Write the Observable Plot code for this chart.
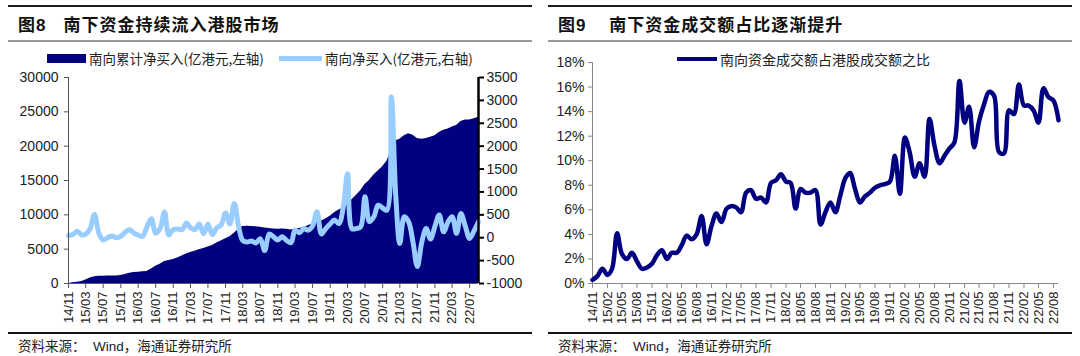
<!DOCTYPE html>
<html><head><meta charset="utf-8">
<script src="https://cdn.jsdelivr.net/npm/d3@7"></script>
<script src="https://cdn.jsdelivr.net/npm/@observablehq/plot@0.6"></script>
<style>
body{margin:0;background:#fff;}
#page{position:relative;width:1080px;height:356px;overflow:hidden;background:#fff;}
.panel{position:absolute;top:0;width:540px;height:356px;}
.rule-top{position:absolute;left:8px;width:524px;top:5px;height:2px;background:#1a1a1a;}
.title{position:absolute;left:18px;top:14px;font-family:"Liberation Sans","Noto Sans CJK SC",sans-serif;font-weight:700;font-size:17px;color:#111;letter-spacing:1px;white-space:nowrap;line-height:24px;}
.rule-grey{position:absolute;left:8px;width:524px;top:40px;height:2px;background:#9a9a9a;}
.chart{position:absolute;left:0;top:44px;}
.rule-bottom{position:absolute;left:8px;width:524px;top:332px;height:1.5px;background:#111;}
.source{position:absolute;left:18px;top:337px;font-family:"Liberation Sans","Noto Sans CJK SC",sans-serif;font-size:13.5px;color:#222;white-space:nowrap;line-height:20px;}
.legend{position:absolute;font-family:"Noto Sans CJK SC",sans-serif;font-size:13.5px;color:#222;white-space:nowrap;line-height:18px;display:flex;align-items:center;}
.sw{display:inline-block;margin-right:3px;}
</style>
</head><body>
<div id="page">
  <div class="panel" id="p1" style="left:0">
    <div class="rule-top"></div>
    <div class="title">图8&nbsp;&nbsp;&nbsp;南下资金持续流入港股市场</div>
    <div class="rule-grey"></div>
    <div class="chart" id="c1"></div>
    <div class="legend" style="left:47px;top:49px;">
      <span class="sw" style="width:39px;height:9px;background:#000080"></span><span>南向累计净买入(亿港元,左轴)</span>
      <span class="sw" style="width:43px;height:5px;background:#99CCFF;margin-left:15px"></span><span>南向净买入(亿港元,右轴)</span>
    </div>
    <div class="rule-bottom"></div>
    <div class="source">资料来源：&nbsp;&nbsp;Wind，海通证券研究所</div>
  </div>
  <div class="panel" id="p2" style="left:540px">
    <div class="rule-top"></div>
    <div class="title">图9&nbsp;&nbsp;&nbsp;&nbsp;南下资金成交额占比逐渐提升</div>
    <div class="rule-grey"></div>
    <div class="chart" id="c2"></div>
    <div class="legend" style="left:137px;top:50px;font-size:14px;">
      <span class="sw" style="width:40px;height:4px;background:#000080"></span><span>南向资金成交额占港股成交额之比</span>
    </div>
    <div class="rule-bottom"></div>
    <div class="source">资料来源：&nbsp;&nbsp;Wind，海通证券研究所</div>
  </div>
</div>
<script>
// ---- data (monthly, 2014/11 .. 2022/09) ----
const startMonth = "2014-11";
const endMonth = "2022-09";

// 南向累计净买入 (亿港元, 左轴)
const cumNetBuy = [
  0,100,200,300,500,800,1000,1050,1050,1100,
  1100,1100,1150,1300,1500,1600,1650,1700,1750,2100,
  2500,2800,3200,3350,3500,3700,4000,4300,4500,4700,
  4900,5100,5300,5550,5900,6200,6500,6800,7300,7900,
  8300,8350,8300,8250,8200,8100,8000,7950,7900,7950,
  7900,7800,7900,8000,8200,8400,8700,8900,9100,9400,
  9800,10300,10700,11000,11500,12200,12800,13500,14400,15000,
  15800,16400,17000,17800,19400,20800,21000,21500,21800,21600,
  21100,21000,21100,21300,21500,22000,22300,22500,22800,23000,
  23600,23800,23800,24000,24200
];

// 南向净买入 (亿港元, 右轴)
const monthlyNetBuy = [
  50,70,140,60,80,200,510,100,-50,0,
  40,0,30,120,175,100,60,30,230,415,
  100,200,560,60,180,190,175,320,220,175,
  300,90,300,70,220,280,540,300,745,230,
  -60,-95,-70,-115,-20,-280,80,20,-50,20,
  -60,-110,165,110,200,165,255,570,80,200,
  300,385,310,680,1400,200,200,240,895,350,
  460,710,650,600,3080,895,-125,460,350,-100,
  -630,-100,200,-30,250,495,130,350,460,95,
  530,250,-15,150,350
];

// 南向资金成交额占港股成交额之比 (%)
const turnoverShare = [
  0.3,0.6,1.2,0.7,1.2,4.1,2.4,2.0,2.5,1.8,
  1.2,1.3,1.6,2.3,2.7,2.0,2.5,2.5,3.1,3.9,
  3.6,4.0,5.5,3.2,4.7,5.7,5.0,6.1,6.3,6.2,
  5.8,7.4,7.6,6.9,7.0,6.6,8.2,8.4,8.9,8.3,
  8.2,6.1,7.7,7.4,7.4,7.6,4.8,5.8,6.6,5.8,
  7.2,8.6,9.0,7.7,6.6,7.1,7.4,7.8,8.0,8.1,
  8.3,10.4,7.3,11.9,10.7,8.7,9.8,8.7,13.4,11.2,
  9.8,10.4,11.0,11.5,16.5,13.1,14.4,11.1,13.2,14.6,
  15.6,15.3,10.7,10.6,14.1,13.8,16.2,14.5,14.5,14.1,
  13.1,15.9,15.2,14.9,13.3
];

const leftXTicks = ["14/11","15/03","15/07","15/11","16/03","16/07","16/11","17/03","17/07","17/11",
  "18/03","18/07","18/11","19/03","19/07","19/11","20/03","20/07","20/11","21/03","21/07","21/11","22/03","22/07"];
const rightXTicks = ["14/11","15/02","15/05","15/08","15/11","16/02","16/05","16/08","16/11","17/02","17/05","17/08",
  "17/11","18/02","18/05","18/08","18/11","19/02","19/05","19/08","19/11","20/02","20/05","20/08",
  "20/11","21/02","21/05","21/08","21/11","22/02","22/05","22/08"];
const leftYTicks = [0,5000,10000,15000,20000,25000,30000];
const rightYTicks = [-1000,-500,0,500,1000,1500,2000,2500,3000,3500];
const shareYTicks = [0,2,4,6,8,10,12,14,16,18];

// ---- build ----
const months = d3.utcMonth.range(new Date(startMonth), d3.utcMonth.offset(new Date(endMonth), 1));
const parseTick = d3.utcParse("%y/%m");
const fmtTick = d3.utcFormat("%y/%m");
const rows = months.map((date, i) => ({date, cum: cumNetBuy[i], net: monthlyNetBuy[i], share: turnoverShare[i]}));

const font = "'Liberation Sans', Arial, sans-serif";
const k = 30000 / 4500;
const toLeft = v => (v + 1000) * k;

const chart1 = Plot.plot({
  width: 540, height: 286,
  marginLeft: 68, marginRight: 62, marginTop: 33, marginBottom: 47,
  style: {fontFamily: font, fontSize: "14px", color: "#222", background: "transparent", overflow: "visible"},
  x: {type: "utc", domain: [months[0], months[months.length - 1]]},
  y: {domain: [0, 30000]},
  marks: [
    Plot.areaY(rows, {x: "date", y: "cum", fill: "#000080"}),
    Plot.line(rows, {x: "date", y: d => toLeft(d.net), stroke: "#99CCFF", strokeWidth: 5, curve: "catmull-rom"}),
    Plot.ruleX([months[0]], {stroke: "#555", strokeWidth: 1}),
    Plot.axisY(leftYTicks, {anchor: "left", tickSize: 4, tickPadding: 6, label: null, stroke: "#555", fill: "#222", tickFormat: d => String(d)}),
    Plot.ruleX([months[months.length - 1]], {stroke: "#000", strokeWidth: 2.5}),
    Plot.axisY(rightYTicks.map(toLeft), {anchor: "right", tickSize: 5, tickPadding: 3, label: null, stroke: "#000", strokeWidth: 2, fill: "#222",
      tickFormat: d => String(Math.round(d / k - 1000))}),
    Plot.ruleY([0], {stroke: "#555", strokeWidth: 1}),
    Plot.axisX(leftXTicks.map(parseTick), {tickRotate: -90, tickFormat: fmtTick, tickSize: 5, tickPadding: 3, label: null, stroke: "#555", fill: "#222", fontSize: 13})
  ]
});
document.getElementById("c1").append(chart1);

const chart2 = Plot.plot({
  width: 540, height: 286,
  marginLeft: 52, marginRight: 22, marginTop: 18, marginBottom: 47,
  style: {fontFamily: font, fontSize: "14px", color: "#222", background: "transparent", overflow: "visible"},
  x: {type: "utc", domain: [months[0], months[months.length - 1]]},
  y: {domain: [0, 18]},
  marks: [
    Plot.ruleX([months[0]], {stroke: "#888", strokeWidth: 1}),
    Plot.ruleY([0], {stroke: "#888", strokeWidth: 1}),
    Plot.axisY(shareYTicks, {anchor: "left", tickSize: 4, tickPadding: 4, label: null, stroke: "#888", fill: "#222", tickFormat: d => d + "%"}),
    Plot.axisX(rightXTicks.map(parseTick), {tickRotate: -90, tickFormat: fmtTick, tickSize: 5, tickPadding: 3, label: null, stroke: "#888", fill: "#222", fontSize: 13}),
    Plot.line(rows, {x: "date", y: "share", stroke: "#000080", strokeWidth: 4.5, curve: "catmull-rom"})
  ]
});
document.getElementById("c2").append(chart2);
</script>
</body></html>
